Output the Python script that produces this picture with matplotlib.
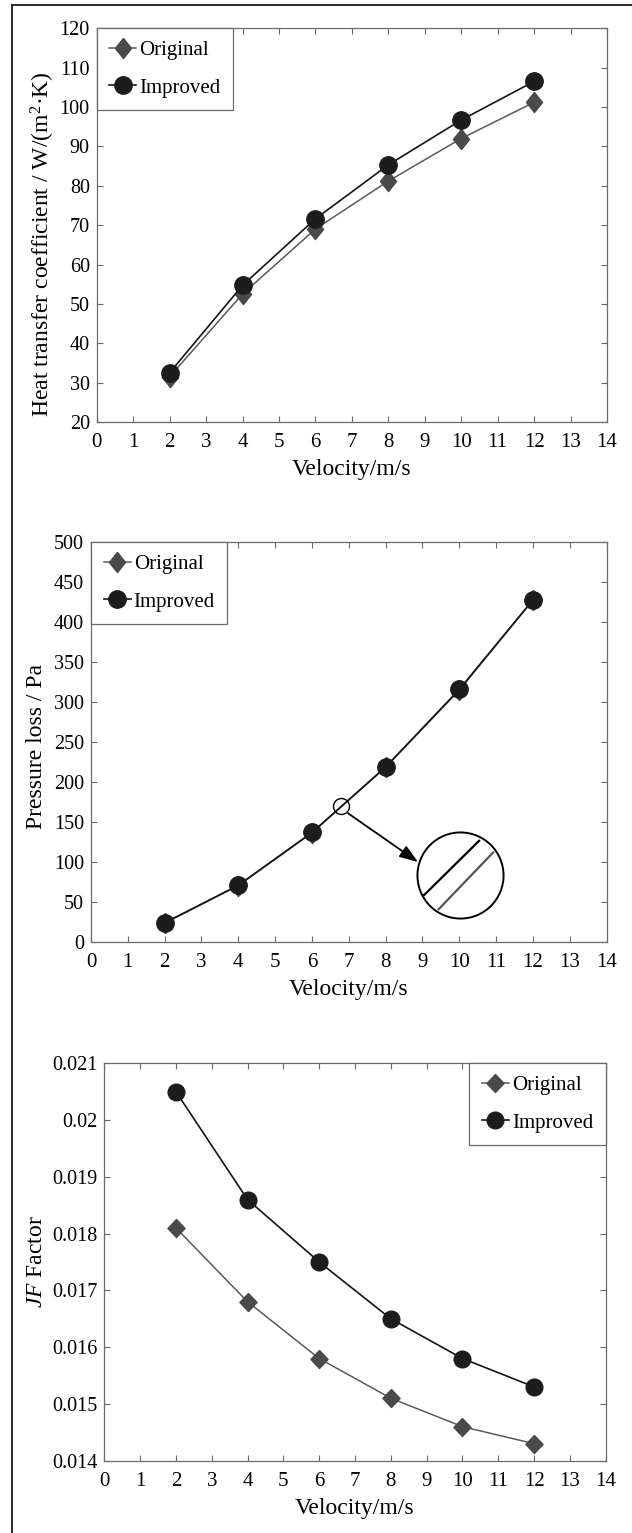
import matplotlib
matplotlib.use("Agg")
import matplotlib.pyplot as plt
from matplotlib.lines import Line2D

plt.rcParams['font.family'] = ['Liberation Serif', 'DejaVu Serif']
plt.rcParams['mathtext.fontset'] = 'custom'
plt.rcParams['mathtext.rm'] = 'Liberation Serif'
plt.rcParams['mathtext.it'] = 'Liberation Serif:italic'
plt.rcParams['mathtext.default'] = 'regular'

# ---------------- data ----------------
velocity = [2, 4, 6, 8, 10, 12]

htc_original = [31.5, 52.5, 69.0, 81.2, 92.0, 101.2]
htc_improved = [32.5, 54.7, 71.6, 85.3, 96.7, 106.5]

dp_original = [23.5, 70.5, 136.5, 218.5, 315.0, 427.5]
dp_improved = [24.0, 71.0, 137.0, 219.0, 316.0, 428.0]

jf_original = [0.0181, 0.0168, 0.0158, 0.0151, 0.0146, 0.0143]
jf_improved = [0.0205, 0.0186, 0.0175, 0.0165, 0.0158, 0.0153]

xticks = list(range(0, 15))
htc_yticks = [20, 30, 40, 50, 60, 70, 80, 90, 100, 110, 120]
dp_yticks = [0, 50, 100, 150, 200, 250, 300, 350, 400, 450, 500]
jf_yticks = [0.014, 0.015, 0.016, 0.017, 0.018, 0.019, 0.020, 0.021]
jf_yticklabels = ['0.014', '0.015', '0.016', '0.017', '0.018', '0.019', '0.02', '0.021']

labels = ['Original', 'Improved']
xlabel = 'Velocity/m/s'
ylabels = ['Heat transfer coefficient / W/(m$^{2}$\u00b7K)',
           'Pressure loss / Pa',
           r'$\mathit{JF}$ Factor']

# zoom annotation in pressure-loss panel (data coords)
zoom_spot = (6.78, 170)
zoom_lens = (10.02, 84)
arrow_start = (6.98, 161)
arrow_end = (8.88, 100)
lens_line_black = ([9.0, 10.56], [56.7, 127.6])
lens_line_gray = ([9.42, 10.94], [40.0, 113.0])

# ---------------- style ----------------
W, H = 632, 1533
fig = plt.figure(figsize=(W / 100, H / 100), dpi=100)

c_orig_line = '#5a5a5a'
c_orig_face = '#4a4a4a'
c_imp_line = '#141414'
c_imp_face = '#1c1c1c'
spine_c = '#6a6a6a'

diamond = [(0, 1), (0.8, 0), (0, -1), (-0.8, 0), (0, 1)]
diamond3 = [(0, 1), (0.95, 0), (0, -1), (-0.95, 0), (0, 1)]

tick_fs = 14.5
label_fs = 17
legend_fs = 15


def px_axes(l, t, r, b):
    return [l / W, (H - b) / H, (r - l) / W, (b - t) / H]


def style_axes(ax, ylim, yticks, yticklabels=None):
    ax.set_xlim(0, 14)
    ax.set_ylim(*ylim)
    ax.set_xticks(xticks)
    ax.set_yticks(yticks)
    if yticklabels is not None:
        ax.set_yticklabels(yticklabels)
    ax.tick_params(direction='in', top=True, right=True, length=4.5, width=0.8,
                   color=spine_c, labelsize=tick_fs)
    ax.tick_params(axis='x', pad=8, labelsize=15)
    ax.tick_params(axis='y', pad=5)
    for s in ax.spines.values():
        s.set_color(spine_c)
        s.set_linewidth(0.9)


def add_legend(ax, loc):
    leg = ax.legend(loc=loc, fontsize=legend_fs, frameon=True, fancybox=False,
                    edgecolor='#6a6a6a', framealpha=1, borderaxespad=0,
                    handlelength=1.3, handletextpad=0.15, labelspacing=0.85,
                    borderpad=0.6, numpoints=1)
    leg.get_frame().set_linewidth(0.9)
    return leg


# ---- panel 1 ----
ax1 = fig.add_axes(px_axes(96.7, 28.3, 607, 422))
ax1.plot(velocity, htc_original, color=c_orig_line, lw=1.1, marker=diamond, ms=14.5,
         mfc=c_orig_face, mec=c_orig_face, label=labels[0])
ax1.plot(velocity, htc_improved, color=c_imp_line, lw=1.2, marker='o', ms=12.5,
         mfc=c_imp_face, mec=c_imp_face, label=labels[1])
style_axes(ax1, (20, 120), htc_yticks)
ax1.set_xlabel(xlabel, fontsize=label_fs, labelpad=5)
ax1.set_ylabel(ylabels[0], fontsize=label_fs)
ax1.yaxis.set_label_coords(-0.078, 0.452)
add_legend(ax1, 'upper left')

# ---- panel 2 ----
ax2 = fig.add_axes(px_axes(91, 542.3, 606.6, 942))
ax2.plot(velocity, dp_original, color=c_orig_line, lw=1.1, marker=diamond, ms=14.5,
         mfc=c_orig_face, mec=c_orig_face, label=labels[0])
ax2.plot(velocity, dp_improved, color=c_imp_line, lw=1.2, marker='o', ms=12.5,
         mfc=c_imp_face, mec=c_imp_face, label=labels[1])
style_axes(ax2, (0, 500), dp_yticks)
ax2.set_xlabel(xlabel, fontsize=label_fs, labelpad=5)
ax2.set_ylabel(ylabels[1], fontsize=label_fs)
ax2.yaxis.set_label_coords(-0.085, 0.49)
add_legend(ax2, 'upper left')

# zoom annotation
ax2.plot([zoom_spot[0]], [zoom_spot[1]], 'o', ms=11.5, mfc='none', mec='black',
         mew=1.0, zorder=5)
ax2.plot([zoom_lens[0]], [zoom_lens[1]], 'o', ms=62, mfc='white', mec='black',
         mew=1.4, zorder=5)
ax2.plot(*lens_line_black, color='black', lw=1.6, zorder=6, solid_capstyle='butt')
ax2.plot(*lens_line_gray, color='#555555', lw=1.6, zorder=6, solid_capstyle='butt')
ax2.annotate('', xy=arrow_end, xytext=arrow_start,
             arrowprops=dict(arrowstyle='-|>,head_length=0.7,head_width=0.25',
                             color='black', lw=1.3,
                             mutation_scale=16, shrinkA=0, shrinkB=0), zorder=6)

# ---- panel 3 ----
ax3 = fig.add_axes(px_axes(104.3, 1063.3, 605.7, 1460.7))
ax3.plot(velocity, jf_original, color=c_orig_line, lw=1.1, marker=diamond3, ms=13,
         mfc=c_orig_face, mec=c_orig_face, label=labels[0])
ax3.plot(velocity, jf_improved, color=c_imp_line, lw=1.2, marker='o', ms=12,
         mfc=c_imp_face, mec=c_imp_face, label=labels[1])
style_axes(ax3, (0.014, 0.021), jf_yticks, jf_yticklabels)
ax3.set_xlabel(xlabel, fontsize=label_fs, labelpad=5)
ax3.set_ylabel(ylabels[2], fontsize=label_fs)
ax3.yaxis.set_label_coords(-0.115, 0.5)
add_legend(ax3, 'upper right')

# outer border (top and left)
fig.add_artist(Line2D([12.3 / W, 1.0], [1 - 4.5 / H, 1 - 4.5 / H], color='#1a1a1a',
                      lw=1.3, transform=fig.transFigure))
fig.add_artist(Line2D([12.3 / W, 12.3 / W], [0, 1 - 4.5 / H], color='#1a1a1a',
                      lw=1.3, transform=fig.transFigure))

fig.savefig('out.png', dpi=100, facecolor='white')
